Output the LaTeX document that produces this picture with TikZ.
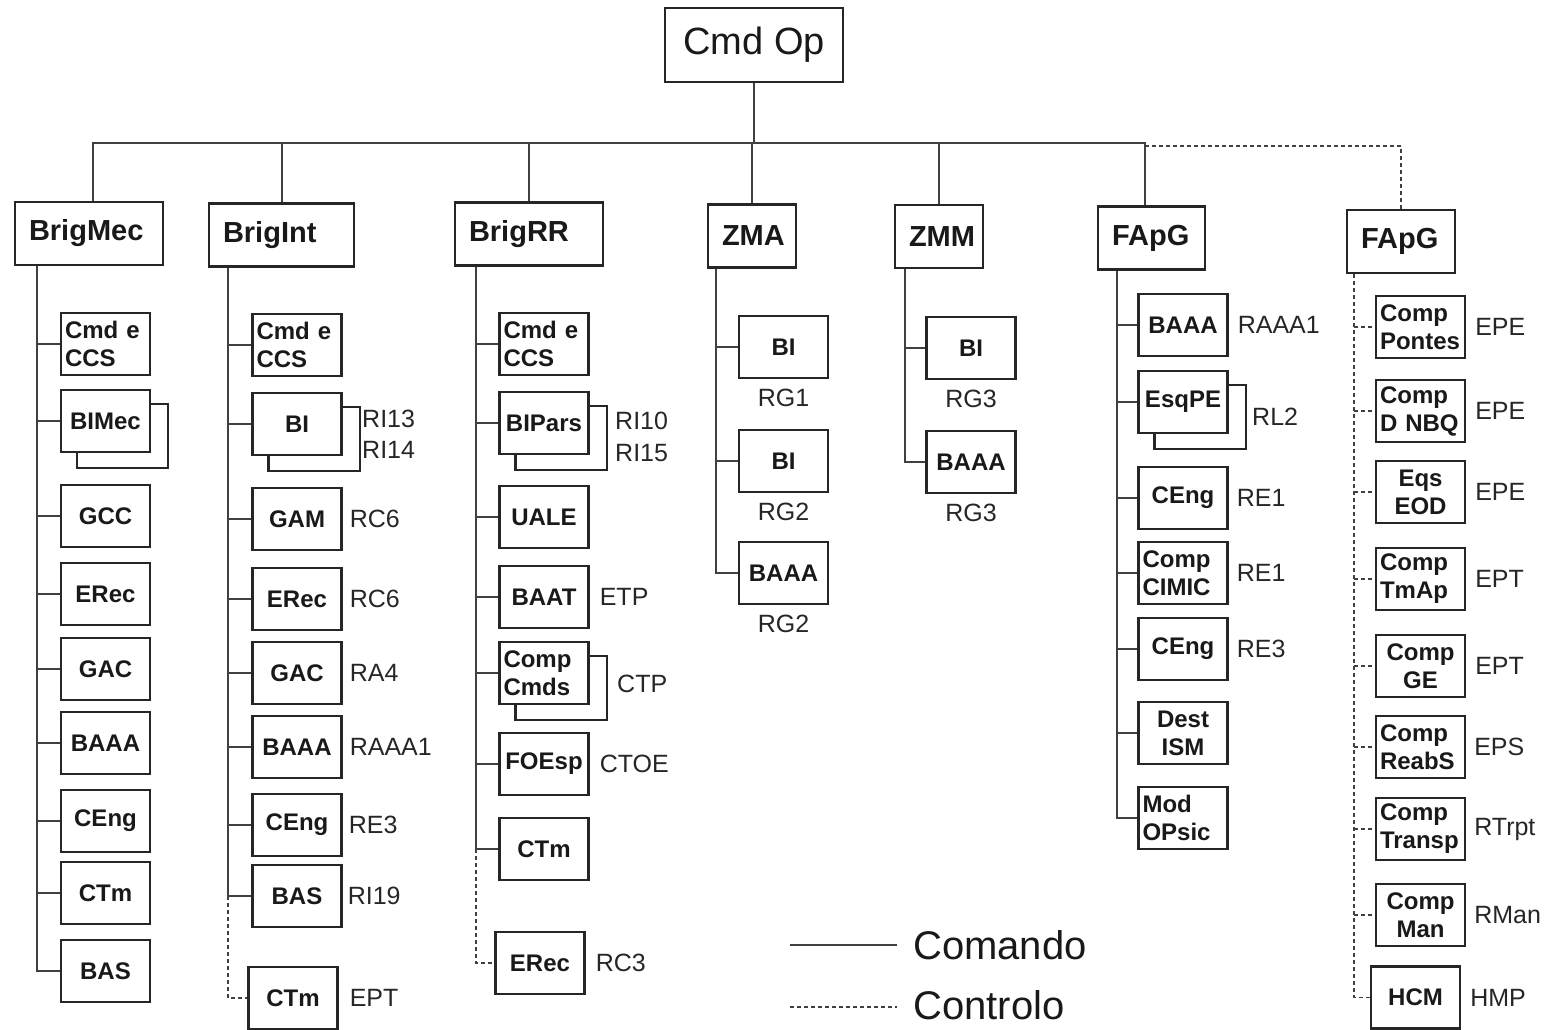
\documentclass[tikz,border=0pt]{standalone}
\usepackage{fontspec}
\setmainfont{Liberation Sans}
\usetikzlibrary{positioning,backgrounds}
\newcommand\topfnt{\fontsize{38}{44}\selectfont}
\newcommand\hfnt{\fontsize{29}{34}\selectfont\bfseries}
\newcommand\cfnt{\fontsize{24}{28}\selectfont\bfseries}
\newcommand\lfnt{\fontsize{25}{30}\selectfont}
\newcommand\legfnt{\fontsize{40}{46}\selectfont}
\begin{document}
\begin{tikzpicture}[x=1pt,y=-1pt,
  box/.style={draw=black!85, line width=2.2pt, fill=white, inner sep=0pt, text=black!90},
  hbox/.style={box, font=\hfnt, minimum height=63pt, inner xsep=14pt, align=left},
  cbox/.style={box, font=\cfnt, minimum width=89pt, minimum height=62pt, align=center},
  lbox/.style={cbox, text width=81pt, align=left},
  conn/.style={draw=black!75, line width=2pt},
  ctrl/.style={draw=black!75, line width=1.6pt, dash pattern=on 4pt off 3pt},
  lab/.style={font=\lfnt, inner sep=0pt, anchor=west, text=black!85},
  blab/.style={font=\lfnt, inner sep=0pt, text=black!85},
  shadowbox/.style={draw=black!85, line width=2.2pt}
]
\useasboundingbox (0,0) rectangle (1545,1029);

% top
\node[box, font=\topfnt, minimum width=178pt, minimum height=74pt] (cmdop) at (754,45) {Cmd Op};

% level 1
\node[hbox, text width=120pt] (brigmec) at (89,233.5) {BrigMec};
\node[hbox, text width=117pt] (brigint) at (281.5,235) {BrigInt};
\node[hbox, text width=120pt] (brigrr) at (529,234) {BrigRR};
\node[hbox, text width=60pt] (zma) at (752,236) {ZMA};
\node[hbox, text width=60pt] (zmm) at (939,236.5) {ZMM};
\node[hbox, text width=79pt] (fapg) at (1151.5,238) {FApG};
\node[hbox, text width=80pt] (fapg2) at (1401,241.5) {FApG};

\coordinate (bus) at (754,143);
\coordinate (mectop) at ([xshift=4pt]brigmec.north);
\coordinate (fapgtop) at ([xshift=-6.5pt]fapg.north);
\draw[conn] (cmdop.south) -- (bus);
\draw[conn] (mectop) |- (bus) -| (fapgtop);
\foreach \n in {brigint,brigrr,zma,zmm} \draw[conn] (\n.north) -- (\n.north |- bus);
\draw[ctrl] ([yshift=-3pt]fapgtop |- bus) -| (fapg2.north);

% column 1 BrigMec
\node[lbox] (c1a) at (105.5,344) {Cmd e\\CCS};
\node[cbox] (c1b) at (105.5,421) {BIMec};
\node[cbox] (c1c) at (105.5,516) {GCC};
\node[cbox] (c1d) at (105.5,594) {ERec};
\node[cbox] (c1e) at (105.5,669) {GAC};
\node[cbox] (c1f) at (105.5,743) {BAAA};
\node[cbox] (c1g) at (105.5,821) {CEng};
\node[cbox] (c1h) at (105.5,893) {CTm};
\node[cbox] (c1i) at (105.5,971) {BAS};
\coordinate (t1) at (37,0);
\draw[conn] (brigmec.south -| t1) |- (c1i.west);
\foreach \n in {c1a,c1b,c1c,c1d,c1e,c1f,c1g,c1h} \draw[conn] (t1 |- \n.west) -- (\n.west);

% column 2 BrigInt
\node[lbox] (c2a) at (297,345) {Cmd e\\CCS};
\node[cbox] (c2b) at (297,424) {BI};
\node[cbox] (c2c) at (297,519) {GAM};
\node[cbox] (c2d) at (297,599) {ERec};
\node[cbox] (c2e) at (297,673) {GAC};
\node[cbox] (c2f) at (297,747) {BAAA};
\node[cbox] (c2g) at (297,825) {CEng};
\node[cbox] (c2h) at (297,896) {BAS};
\node[cbox] (c2i) at (293,998) {CTm};
\coordinate (t2) at (228,0);
\draw[conn] (brigint.south -| t2) |- (c2h.west);
\foreach \n in {c2a,c2b,c2c,c2d,c2e,c2f,c2g} \draw[conn] (t2 |- \n.west) -- (\n.west);
\draw[ctrl] (t2 |- c2h.west) |- (c2i.west);
\node[lab] (l2b1) at (362,419) {RI13};
\node[lab] (l2b2) at (362,450) {RI14};
\node[lab, right=7pt of c2c] (l2c) {RC6};
\node[lab, right=7pt of c2d] (l2d) {RC6};
\node[lab, right=7pt of c2e] (l2e) {RA4};
\node[lab, right=7pt of c2f] (l2f) {RAAA1};
\node[lab, right=6pt of c2g] (l2g) {RE3};
\node[lab, right=5pt of c2h] (l2h) {RI19};
\node[lab, right=11pt of c2i] (l2i) {EPT};

% column 3 BrigRR
\node[lbox] (c3a) at (544,344) {Cmd e\\CCS};
\node[cbox] (c3b) at (544,423) {BIPars};
\node[cbox] (c3c) at (544,517) {UALE};
\node[cbox] (c3d) at (544,597) {BAAT};
\node[lbox] (c3e) at (544,673) {Comp\\Cmds};
\node[cbox] (c3f) at (544,764) {FOEsp};
\node[cbox] (c3g) at (544,849) {CTm};
\node[cbox] (c3h) at (540,963) {ERec};
\coordinate (t3) at (476,0);
\draw[conn] (brigrr.south -| t3) |- (c3g.west);
\foreach \n in {c3a,c3b,c3c,c3d,c3e,c3f} \draw[conn] (t3 |- \n.west) -- (\n.west);
\draw[ctrl] (t3 |- c3g.west) |- (c3h.west);
\node[lab] (l3b1) at (615,421) {RI10};
\node[lab] (l3b2) at (615,453) {RI15};
\node[lab, right=10pt of c3d] (l3d) {ETP};
\node[lab] (l3e) at (617,684) {CTP};
\node[lab, right=10pt of c3f] (l3f) {CTOE};
\node[lab, right=10pt of c3h] (l3h) {RC3};

% column 4 ZMA
\node[cbox] (c4a) at (783.5,347) {BI};
\node[cbox] (c4b) at (783.5,461) {BI};
\node[cbox] (c4c) at (783.5,573) {BAAA};
\coordinate (t4) at (716,0);
\draw[conn] (zma.south -| t4) |- (c4c.west);
\foreach \n in {c4a,c4b} \draw[conn] (t4 |- \n.west) -- (\n.west);
\node[blab, below=10pt of c4a] (l4a) {RG1};
\node[blab, below=10pt of c4b] (l4b) {RG2};
\node[blab, below=10pt of c4c] (l4c) {RG2};

% column 5 ZMM
\node[cbox] (c5a) at (971,348) {BI};
\node[cbox] (c5b) at (971,462) {BAAA};
\coordinate (t5) at (905,0);
\draw[conn] (zmm.south -| t5) |- (c5b.west);
\draw[conn] (t5 |- c5a.west) -- (c5a.west);
\node[blab, below=10pt of c5a] (l5a) {RG3};
\node[blab, below=10pt of c5b] (l5b) {RG3};

% column 6 FApG
\node[cbox] (c6a) at (1183,325) {BAAA};
\node[cbox] (c6b) at (1183,402) {EsqPE};
\node[cbox] (c6c) at (1183,498) {CEng};
\node[lbox] (c6d) at (1183,573) {Comp\\CIMIC};
\node[cbox] (c6e) at (1183,649) {CEng};
\node[cbox] (c6f) at (1183,733) {Dest\\ISM};
\node[lbox] (c6g) at (1183,818) {Mod\\OPsic};
\coordinate (t6) at (1117,0);
\draw[conn] (fapg.south -| t6) |- (c6g.west);
\foreach \n in {c6a,c6b,c6c,c6d,c6e,c6f} \draw[conn] (t6 |- \n.west) -- (\n.west);
\node[lab, right=9pt of c6a] (l6a) {RAAA1};
\node[lab] (l6b) at (1252,417) {RL2};
\node[lab, right=8pt of c6c] (l6c) {RE1};
\node[lab, right=8pt of c6d] (l6d) {RE1};
\node[lab, right=8pt of c6e] (l6e) {RE3};

% column 7 FApG (control)
\node[lbox] (c7a) at (1420.5,327) {Comp\\Pontes};
\node[lbox] (c7b) at (1420.5,411) {Comp\\D NBQ};
\node[cbox] (c7c) at (1420.5,492) {Eqs\\EOD};
\node[lbox] (c7d) at (1420.5,579) {Comp\\TmAp};
\node[cbox] (c7e) at (1420.5,666) {Comp\\GE};
\node[lbox] (c7f) at (1420.5,747) {Comp\\ReabS};
\node[lbox] (c7g) at (1420.5,829) {Comp\\Transp};
\node[cbox] (c7h) at (1420.5,915) {Comp\\Man};
\node[cbox] (c7i) at (1415.5,997.5) {HCM};
\coordinate (t7) at (1354,0);
\draw[ctrl] (fapg2.south -| t7) |- (c7i.west);
\foreach \n in {c7a,c7b,c7c,c7d,c7e,c7f,c7g,c7h} \draw[ctrl] (t7 |- \n.west) -- (\n.west);
\node[lab, right=9pt of c7a] (l7a) {EPE};
\node[lab, right=9pt of c7b] (l7b) {EPE};
\node[lab, right=9pt of c7c] (l7c) {EPE};
\node[lab, right=9pt of c7d] (l7d) {EPT};
\node[lab, right=9pt of c7e] (l7e) {EPT};
\node[lab, right=8pt of c7f] (l7f) {EPS};
\node[lab, right=8pt of c7g] (l7g) {RTrpt};
\node[lab, right=8pt of c7h] (l7h) {RMan};
\node[lab, right=9pt of c7i] (l7i) {HMP};

% shadow copies behind doubled boxes
\begin{scope}[on background layer]
\foreach \n in {c1b,c2b,c3b,c3e,c6b}
  \draw[shadowbox] ([shift={(17,15)}]\n.south west) rectangle ([shift={(17,15)}]\n.north east);
\end{scope}

% legend
\coordinate (lg1) at (790,945);
\coordinate (lg2) at (790,1007);
\node[font=\legfnt, anchor=west, inner xsep=16pt, inner ysep=0pt, text=black!90] (lega) at (897,945) {Comando};
\node[font=\legfnt, anchor=west, inner xsep=16pt, inner ysep=0pt, text=black!90] (legb) at (897,1005) {Controlo};
\draw[conn, line width=1.5pt] (lg1) -- (lega.west |- lg1);
\draw[ctrl, line width=1.5pt] (lg2) -- (legb.west |- lg2);
\end{tikzpicture}
\end{document}
